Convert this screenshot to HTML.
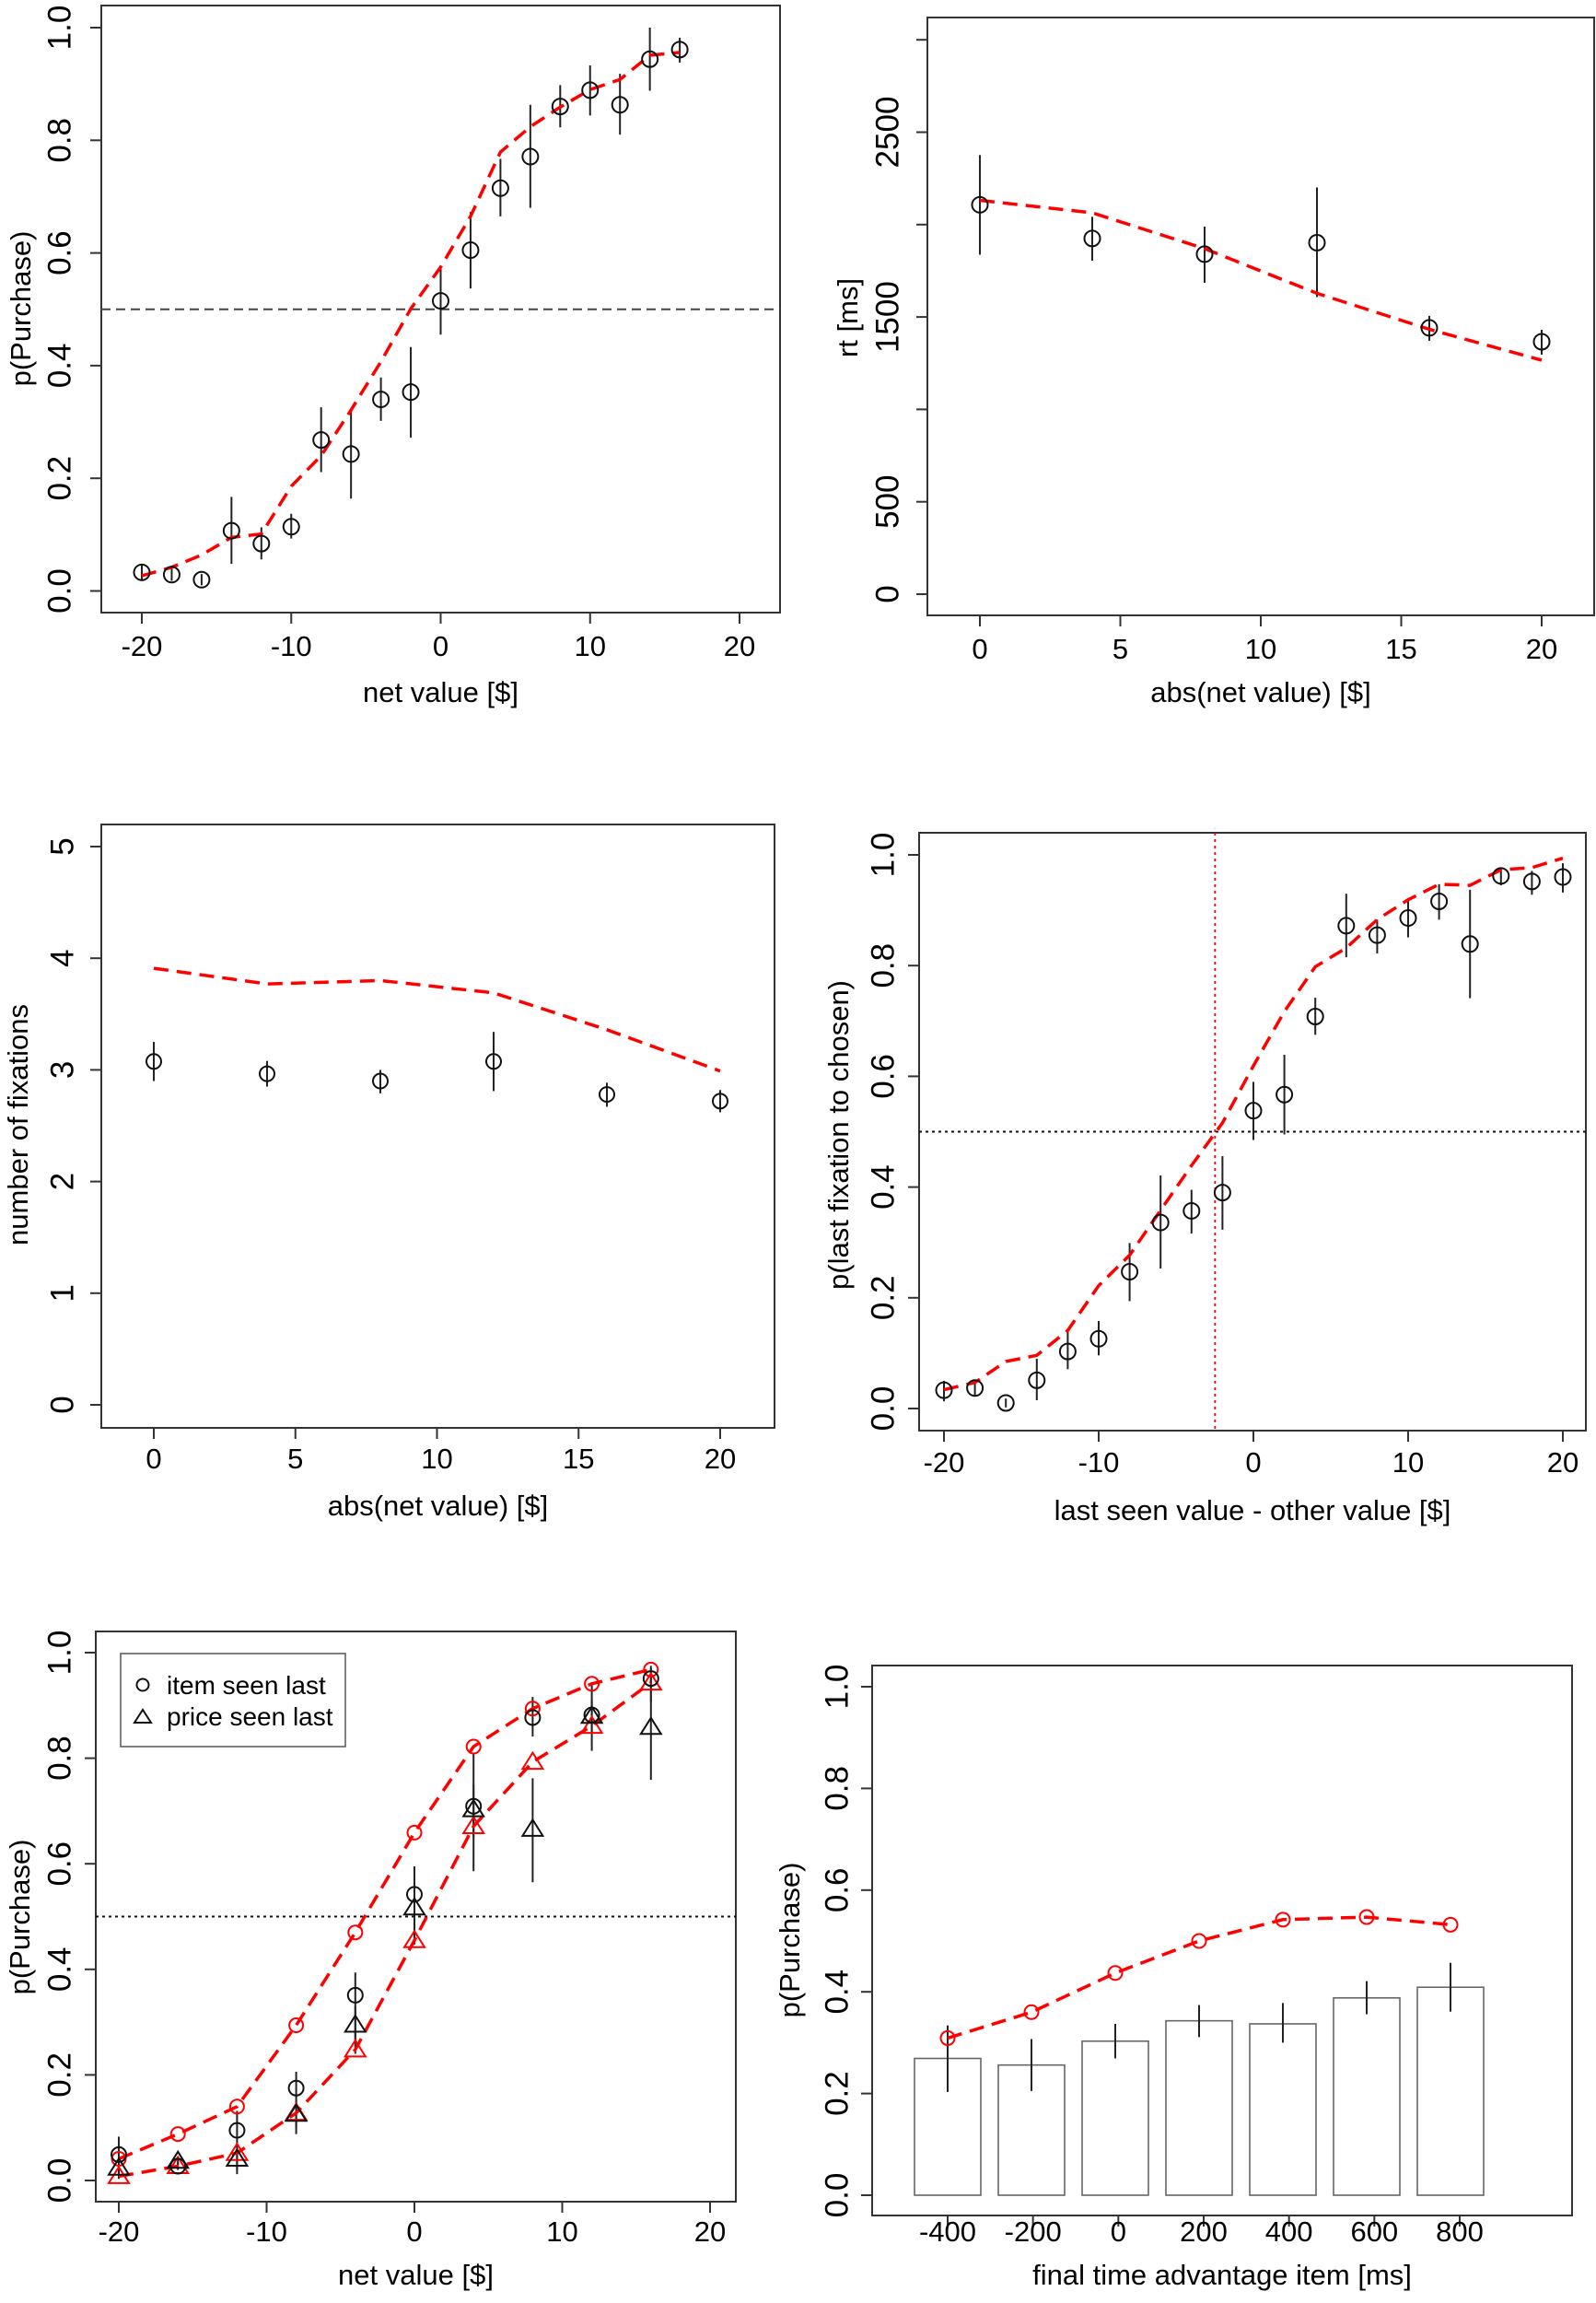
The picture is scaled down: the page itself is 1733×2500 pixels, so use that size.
<!DOCTYPE html>
<html><head><meta charset="utf-8"><style>
html,body{margin:0;padding:0;background:#fff}
svg{display:block}
text{font-family:"Liberation Sans",Arial,sans-serif;fill:#000}
</style></head><body>
<svg id="fig" width="1733" height="2500" viewBox="0 0 1733 2500" xmlns="http://www.w3.org/2000/svg"></svg>
<script>
// ---------- Panel A: p(Purchase) vs net value ----------
const aX = [-20,-18,-16,-14,-12,-10,-8,-6,-4,-2,0,2,4,6,8,10,12,14,16];
const aObs = [0.033,0.029,0.020,0.107,0.084,0.114,0.268,0.243,0.340,0.353,0.515,0.605,0.715,0.771,0.860,0.889,0.863,0.944,0.961];
const aLo  = [0.018,0.018,0.010,0.048,0.056,0.093,0.211,0.164,0.302,0.272,0.455,0.537,0.665,0.680,0.823,0.844,0.810,0.888,0.938];
const aHi  = [0.048,0.040,0.030,0.167,0.113,0.137,0.326,0.319,0.379,0.433,0.575,0.673,0.767,0.863,0.898,0.933,0.918,1.000,0.982];
const aModel = [0.027,0.042,0.064,0.095,0.101,0.186,0.240,0.321,0.407,0.501,0.575,0.665,0.779,0.824,0.859,0.890,0.908,0.951,0.956];
const aXTicks = [-20,-10,0,10,20];
const aYTicks = [0,0.2,0.4,0.6,0.8,1.0];
const aYLabels = ["0.0","0.2","0.4","0.6","0.8","1.0"];

// ---------- Panel B: RT vs abs(net value) ----------
const bX = [0,4,8,12,16,20];
const bObs = [2107,1925,1840,1902,1441,1366];
const bLo  = [1837,1805,1685,1608,1371,1296];
const bHi  = [2376,2042,1989,2201,1506,1431];
const bModel = [2131,2064,1870,1628,1433,1266];
const bXTicks = [0,5,10,15,20];
const bYTicks = [0,500,1000,1500,2000,2500,3000];
const bYLabels = ["0","500","","1500","","2500",""];

// ---------- Panel C: number of fixations ----------
const cX = [0,4,8,12,16,20];
const cObs = [3.075,2.965,2.90,3.075,2.78,2.72];
const cLo  = [2.90,2.85,2.79,2.81,2.67,2.62];
const cHi  = [3.25,3.08,3.00,3.34,2.885,2.82];
const cModel = [3.91,3.77,3.80,3.69,3.36,2.99];
const cXTicks = [0,5,10,15,20];
const cYTicks = [0,1,2,3,4,5];
const cYLabels = ["0","1","2","3","4","5"];

// ---------- Panel D: p(last fixation to chosen) ----------
const dX = [-20,-18,-16,-14,-12,-10,-8,-6,-4,-2,0,2,4,6,8,10,12,14,16,18,20];
const dObs = [0.033,0.037,0.010,0.051,0.103,0.126,0.247,0.336,0.357,0.390,0.538,0.567,0.708,0.872,0.855,0.886,0.916,0.839,0.962,0.952,0.960];
const dLo  = [0.013,0.022,0.002,0.015,0.071,0.096,0.194,0.253,0.316,0.323,0.485,0.495,0.675,0.815,0.822,0.851,0.883,0.741,0.945,0.928,0.932];
const dHi  = [0.050,0.052,0.018,0.090,0.138,0.158,0.299,0.421,0.395,0.456,0.590,0.639,0.742,0.930,0.883,0.921,0.947,0.937,0.976,0.971,0.985];
const dModel = [0.034,0.047,0.085,0.096,0.141,0.222,0.277,0.358,0.439,0.516,0.619,0.717,0.798,0.832,0.883,0.919,0.947,0.945,0.973,0.977,0.994];
const dIndiff = -2.48;
const dXTicks = [-20,-10,0,10,20];
const dYTicks = [0,0.2,0.4,0.6,0.8,1.0];
const dYLabels = ["0.0","0.2","0.4","0.6","0.8","1.0"];

// ---------- Panel E: item vs price seen last ----------
const eX = [-20,-16,-12,-8,-4,0,4,8,12,16];
const eItemObs = [0.049,0.027,0.095,0.175,0.351,0.542,0.709,0.877,0.882,0.951];
const eItemLo  = [0.003,0.020,0.012,0.088,0.240,0.447,0.586,0.841,0.814,0.907];
const eItemHi  = [0.083,0.035,0.132,0.206,0.394,0.595,0.808,0.916,0.941,0.975];
const ePriceObs = [0.024,0.037,0.041,0.126,0.295,0.517,0.703,0.666,0.880,0.859];
const ePriceLo  = [0.010,0.030,0.020,0.100,0.260,0.480,0.650,0.565,0.850,0.759];
const ePriceHi  = [0.040,0.045,0.060,0.150,0.330,0.560,0.750,0.762,0.910,0.970];
const eItemModel = [0.041,0.088,0.140,0.294,0.470,0.659,0.822,0.894,0.941,0.968];
const ePriceModel = [0.008,0.027,0.052,0.128,0.248,0.455,0.671,0.793,0.861,0.943];
const eXTicks = [-20,-10,0,10,20];
const eYTicks = [0,0.2,0.4,0.6,0.8,1.0];
const eYLabels = ["0.0","0.2","0.4","0.6","0.8","1.0"];

// ---------- Panel F: final time advantage ----------
const fCats = [-400,-200,0,200,400,600,800];
const fObs = [0.269,0.256,0.303,0.343,0.337,0.388,0.409];
const fLo  = [0.203,0.205,0.269,0.311,0.300,0.356,0.361];
const fHi  = [0.334,0.307,0.337,0.374,0.378,0.421,0.457];
const fModel = [0.309,0.360,0.437,0.500,0.542,0.547,0.532];
const fXTicks = [-400,-200,0,200,400,600,800];
const fYTicks = [0,0.2,0.4,0.6,0.8,1.0];
const fYLabels = ["0.0","0.2","0.4","0.6","0.8","1.0"];

const NS = "http://www.w3.org/2000/svg";
const fig = document.getElementById('fig');
function mk(tag, attrs, parent){
  const e = document.createElementNS(NS, tag);
  for (const k in attrs) e.setAttribute(k, attrs[k]);
  (parent||fig).appendChild(e);
  return e;
}
function lin(d0,d1,r0,r1){ return v => r0 + (v-d0)*(r1-r0)/(d1-d0); }
const RED = "#ff0000";

function frame(g, box){
  const r = mk('rect',{x:box.l,y:box.t,width:box.r-box.l,height:box.b-box.t,fill:'none',stroke:'#333',"stroke-width":2},g);
  
  
}
function xAxis(g, box, sx, ticks, labels, base, title, titleBase){
  const ax = mk('g',{},g);
  
  
  ticks.forEach((t,i)=>{
    const x = sx(t);
    mk('line',{x1:x,x2:x,y1:box.b,y2:box.b+12,stroke:'#333',"stroke-width":2},ax);
    const tx = mk('text',{x:x,y:base,"text-anchor":"middle","font-size":31},ax);
    tx.textContent = labels ? labels[i] : String(t);
    
    
  });
  const tt = mk('text',{x:(box.l+box.r)/2,y:titleBase,"text-anchor":"middle","font-size":31},g);
  tt.textContent = title;
  
  
}
function yAxis(g, box, sy, ticks, labels, lx, title, tx, ty){
  const ax = mk('g',{},g);
  
  
  ticks.forEach((t,i)=>{
    const y = sy(t);
    mk('line',{x1:box.l,x2:box.l-12,y1:y,y2:y,stroke:'#333',"stroke-width":2},ax);
    if(labels[i]!==""){
      const te = mk('text',{x:0,y:0,"text-anchor":"middle","font-size":35,transform:`translate(${lx+12.5},${y}) rotate(-90)`},ax);
      te.textContent = labels[i];
      
      
    }
  });
  const tt = mk('text',{x:0,y:0,"text-anchor":"middle","font-size":31,transform:`translate(${tx+11},${ty}) rotate(-90)`},g);
  tt.textContent = title;
  
  
}
function modelLine(g, xs, ys, sx, sy, name){
  const pts = xs.map((x,i)=>sx(x).toFixed(1)+','+sy(ys[i]).toFixed(1)).join(' ');
  const p = mk('polyline',{points:pts,fill:'none',stroke:RED,"stroke-width":3.5,"stroke-dasharray":"16 9"},g);
  
  
}
function errBars(g, xs, lo, hi, sx, sy){
  xs.forEach((x,i)=>{
    const e = mk('line',{x1:sx(x),x2:sx(x),y1:sy(lo[i]),y2:sy(hi[i]),stroke:'#222',"stroke-width":2},g);
    
    
  });
}
function circles(g, xs, ys, sx, sy, color, r, name){
  xs.forEach((x,i)=>{
    const c = mk('circle',{cx:sx(x),cy:sy(ys[i]),r:r,fill:'none',stroke:color,"stroke-width":2},g);
    
    
  });
}
function triangles(g, xs, ys, sx, sy, color, name){
  xs.forEach((x,i)=>{
    const cx=sx(x), cy=sy(ys[i]), s=10;
    const t = mk('polygon',{points:`${cx},${cy-s} ${cx-s*1.1},${cy+s*0.75} ${cx+s*1.1},${cy+s*0.75}`,fill:'none',stroke:color,"stroke-width":2},g);
    
    
  });
}
function hline(g, box, y, dash, color, name){
  const l = mk('line',{x1:box.l,x2:box.r,y1:y,y2:y,stroke:color,"stroke-width":2,"stroke-dasharray":dash},g);
  
  
}

// Panel A
{
  const g = mk('g',{});  
  const box={l:110,r:847,t:6,b:665};
  const sx=lin(-20,20,154,803), sy=lin(0,1,641.5,30);
  frame(g,box);
  hline(g,box,sy(0.5),"10 6","#444","reference-line-0.5");
  xAxis(g,box,sx,aXTicks,null,712,"net value [$]",762);
  yAxis(g,box,sy,aYTicks,aYLabels,64,"p(Purchase)",22,335);
  errBars(g,aX,aLo,aHi,sx,sy);
  modelLine(g,aX,aModel,sx,sy);
  circles(g,aX,aObs,sx,sy,'#111',8.5);
}
// Panel B
{
  const g = mk('g',{});  
  const box={l:1007,r:1731,t:19,b:668};
  const sx=lin(0,20,1064,1674), sy=lin(0,2500,645,143.5);
  frame(g,box);
  xAxis(g,box,sx,bXTicks,null,715,"abs(net value) [$]",762);
  yAxis(g,box,sy,bYTicks,bYLabels,963,"rt [ms]",920,345);
  errBars(g,bX,bLo,bHi,sx,sy);
  modelLine(g,bX,bModel,sx,sy);
  circles(g,bX,bObs,sx,sy,'#111',8.5);
}
// Panel C
{
  const g = mk('g',{});  
  const box={l:110,r:841,t:895,b:1550};
  const sx=lin(0,20,167,782), sy=lin(0,5,1525,919);
  frame(g,box);
  xAxis(g,box,sx,cXTicks,null,1594,"abs(net value) [$]",1645);
  yAxis(g,box,sy,cYTicks,cYLabels,67,"number of fixations",19,1221);
  errBars(g,cX,cLo,cHi,sx,sy);
  modelLine(g,cX,cModel,sx,sy);
  circles(g,cX,cObs,sx,sy,'#111',8);
}
// Panel D
{
  const g = mk('g',{});  
  const box={l:998,r:1722,t:904,b:1553};
  const sx=lin(-20,20,1025,1697), sy=lin(0,1,1529,928);
  frame(g,box);
  hline(g,box,sy(0.5),"3 4","#111","reference-line-0.5");
  const v = mk('line',{x1:sx(dIndiff),x2:sx(dIndiff),y1:box.t,y2:box.b,stroke:RED,"stroke-width":1.8,"stroke-dasharray":"3 4"},g);
  
  
  xAxis(g,box,sx,dXTicks,null,1598,"last seen value - other value [$]",1650);
  yAxis(g,box,sy,dYTicks,dYLabels,958,"p(last fixation to chosen)",910,1232);
  errBars(g,dX,dLo,dHi,sx,sy);
  modelLine(g,dX,dModel,sx,sy);
  circles(g,dX,dObs,sx,sy,'#111',8.5);
}
// Panel E
{
  const g = mk('g',{});  
  const box={l:104,r:799,t:1771,b:2390};
  const sx=lin(-20,20,129,771), sy=lin(0,1,2367,1794);
  frame(g,box);
  hline(g,box,sy(0.5),"3 4","#111","reference-line-0.5");
  xAxis(g,box,sx,eXTicks,null,2433,"net value [$]",2480);
  yAxis(g,box,sy,eYTicks,eYLabels,64,"p(Purchase)",21,2081);
  errBars(g,eX,eItemLo,eItemHi,sx,sy);
  errBars(g,eX,ePriceLo,ePriceHi,sx,sy);
  modelLine(g,eX,eItemModel,sx,sy,'model-line-item');
  modelLine(g,eX,ePriceModel,sx,sy,'model-line-price');
  circles(g,eX,eItemModel,sx,sy,RED,7.5,'model-point-item');
  triangles(g,eX,ePriceModel,sx,sy,RED,'model-point-price');
  circles(g,eX,eItemObs,sx,sy,'#111',8,'data-point-item');
  triangles(g,eX,ePriceObs,sx,sy,'#111','data-point-price');
  const lg = mk('g',{},g);  
  mk('rect',{x:131,y:1795,width:244,height:101,fill:'#fff',stroke:'#555',"stroke-width":1.5},lg);
  const c1 = mk('circle',{cx:155,cy:1829,r:6.5,fill:'none',stroke:'#111',"stroke-width":2},lg);
   
  const t1 = mk('text',{x:181,y:1839,"font-size":28},lg); t1.textContent='item seen last';
   
  const tr = mk('polygon',{points:"155,1856 146,1870 164,1870",fill:'none',stroke:'#111',"stroke-width":2},lg);
   
  const t2 = mk('text',{x:181,y:1873,"font-size":28},lg); t2.textContent='price seen last';
   
}
// Panel F
{
  const g = mk('g',{});  
  const box={l:947,r:1707,t:1808,b:2405};
  const sy=lin(0,1,2383,1831);
  const bx = i => 1029 + i*91;       // bar-index scale
  const sx = lin(-400,800,1029,1585); // labelled axis scale
  frame(g,box);
  fCats.forEach((c,i)=>{
    const r = mk('rect',{x:bx(i)-36,y:sy(fObs[i]),width:72,height:sy(0)-sy(fObs[i]),fill:'#fff',stroke:'#666',"stroke-width":1.6},g);
    
    
  });
  const idx = fCats.map((c,i)=>i);
  errBars(g,idx,fLo,fHi,bx,sy);
  modelLine(g,idx,fModel,bx,sy);
  circles(g,idx,fModel,bx,sy,RED,7.5,'model-point');
  xAxis(g,box,sx,fXTicks,null,2433,"final time advantage item [ms]",2480);
  yAxis(g,box,sy,fYTicks,fYLabels,908,"p(Purchase)",857,2106);
}
</script>
</body></html>
